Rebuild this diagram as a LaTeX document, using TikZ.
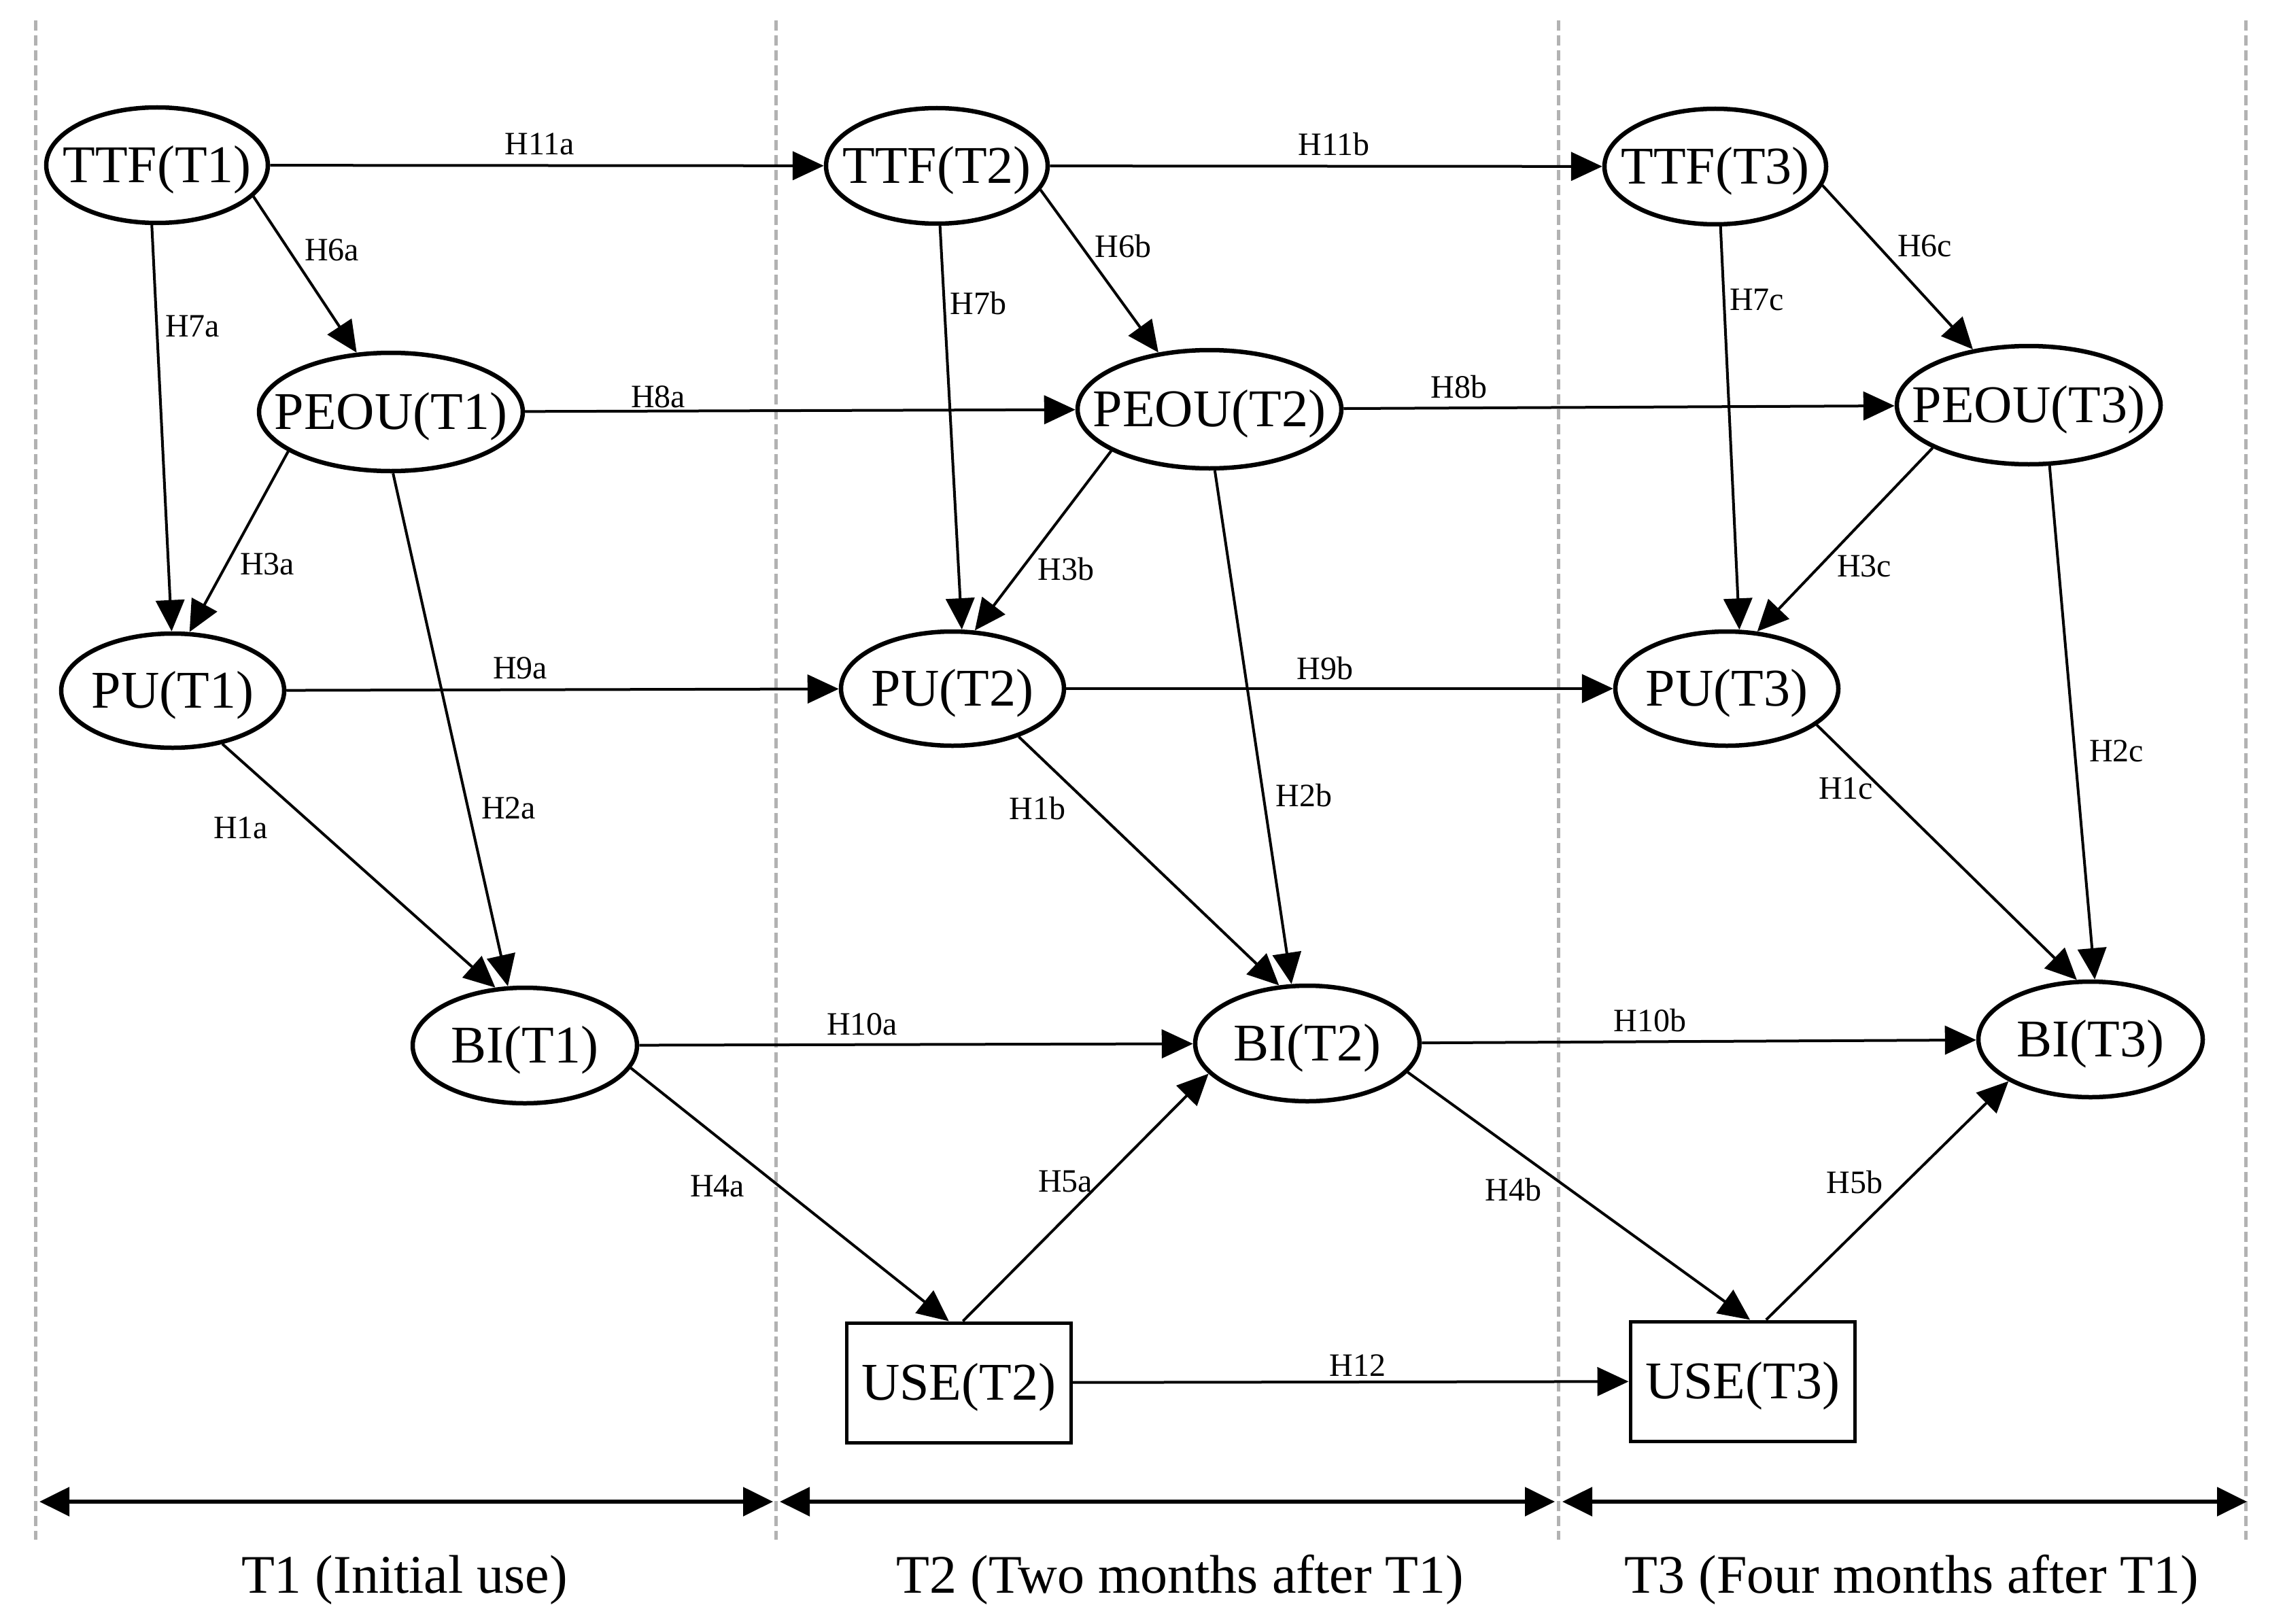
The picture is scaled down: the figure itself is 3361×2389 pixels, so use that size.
\documentclass[tikz,border=0pt]{standalone}
\usepackage{fontspec}
\setmainfont{Liberation Serif}
\usetikzlibrary{arrows.meta,shapes.geometric}
\newcommand\nt[1]{\makebox[0pt]{\raisebox{-0.33em}[0pt][0pt]{#1}}}
\begin{document}
\begin{tikzpicture}[x=1pt,y=-1pt,
  ell/.style={ellipse,draw,line width=6.5pt,inner sep=0pt,font=\fontsize{78pt}{80pt}\selectfont},
  ttfn/.style={ell,minimum width=326pt,minimum height=170pt},
  peoun/.style={ell,minimum width=388pt,minimum height=174pt},
  pun/.style={ell,minimum width=328pt,minimum height=168pt},
  bin/.style={ell,minimum width=330pt,minimum height=170pt},
  usen/.style={rectangle,draw,line width=5pt,inner sep=0pt,minimum width=330pt,minimum height=176pt,font=\fontsize{78pt}{80pt}\selectfont},
  conn/.style={draw,line width=4pt,-{Triangle[length=46pt,width=42pt]}},
  lab/.style={inner sep=0pt,font=\fontsize{48pt}{50pt}\selectfont},
  blab/.style={inner sep=0pt,anchor=base,font=\fontsize{80pt}{84pt}\selectfont},
  dl/.style={draw=gray!60,line width=5pt,dash pattern=on 15pt off 7pt},
  tl/.style={draw,line width=5.5pt,{Triangle[length=44pt,width=42pt]}-{Triangle[length=44pt,width=42pt]}}]
\useasboundingbox (0,0) rectangle (3361,2389);

% period separators
\draw[dl] (52,30) -- (52,2265);
\draw[dl] (1141,30) -- (1141,2265);
\draw[dl] (2292,30) -- (2292,2265);
\draw[dl] (3303,30) -- (3303,2265);

% nodes
\node[ttfn] (ttf1) at (231,243) {\nt{TTF(T1)}};
\node[ttfn] (ttf2) at (1378,244) {\nt{TTF(T2)}};
\node[ttfn] (ttf3) at (2523,245) {\nt{TTF(T3)}};
\node[peoun] (peou1) at (575,606) {\nt{PEOU(T1)}};
\node[peoun] (peou2) at (1779,602) {\nt{PEOU(T2)}};
\node[peoun] (peou3) at (2984,596) {\nt{PEOU(T3)}};
\node[pun] (pu1) at (254,1016) {\nt{PU(T1)}};
\node[pun] (pu2) at (1401,1013) {\nt{PU(T2)}};
\node[pun] (pu3) at (2540,1013) {\nt{PU(T3)}};
\node[bin] (bi1) at (772,1538) {\nt{BI(T1)}};
\node[bin] (bi2) at (1923,1535) {\nt{BI(T2)}};
\node[bin] (bi3) at (3075,1529) {\nt{BI(T3)}};
\node[usen] (use2) at (1410,2034) {\nt{USE(T2)}};
\node[usen] (use3) at (2563,2032) {\nt{USE(T3)}};

% connectors
\draw[conn] (ttf1) -- (ttf2);
\draw[conn] (ttf2) -- (ttf3);
\draw[conn] (ttf1.-18) -- (peou1.120);
\draw[conn] (ttf2.-13) -- (peou2.132);
\draw[conn] (ttf3.-10) -- (peou3.135);
\draw[conn] (ttf1.-95) -- (pu1.91);
\draw[conn] (ttf2.-87) -- (pu2.81);
\draw[conn] (ttf3.-85) -- (pu3.78);
\draw[conn] (peou1) -- (peou2);
\draw[conn] (peou2) -- (peou3);
\draw[conn] (peou1.201) -- (pu1.74);
\draw[conn] (peou2.203) -- (pu2.69);
\draw[conn] (peou3.204) -- (pu3.62);
\draw[conn] (pu1) -- (pu2);
\draw[conn] (pu2) -- (pu3);
\draw[conn] (peou1.-88) -- (bi1.106);
\draw[conn] (peou2.-85) -- (bi2.105);
\draw[conn] (peou3.-71) -- (bi3.86);
\draw[conn] (pu1.-47) -- (bi1.117);
\draw[conn] (pu2.-36) -- (bi2.116);
\draw[conn] (pu3.-22) -- (bi3.103);
\draw[conn] (bi1) -- (bi2);
\draw[conn] (bi2) -- (bi3);
\draw[conn] (bi1.-12) -- (use2.99);
\draw[conn] (bi2.-16) -- (use3.83);
\draw[conn] (use2.86) -- (bi2.197);
\draw[conn] (use3.69) -- (bi3.207);
\draw[conn] (use2) -- (use3);

% connector labels
\node[lab] (l11a) at (794,212) {H11a};
\node[lab] (l11b) at (1962,212) {H11b};
\node[lab] (l6a) at (488,368) {H6a};
\node[lab] (l6b) at (1652,362) {H6b};
\node[lab] (l6c) at (2831,362) {H6c};
\node[lab] (l7a) at (283,480) {H7a};
\node[lab] (l7b) at (1439,446) {H7b};
\node[lab] (l7c) at (2584,441) {H7c};
\node[lab] (l8a) at (968,584) {H8a};
\node[lab] (l8b) at (2146,569) {H8b};
\node[lab] (l3a) at (393,830) {H3a};
\node[lab] (l3b) at (1568,837) {H3b};
\node[lab] (l3c) at (2742,833) {H3c};
\node[lab] (l9a) at (765,983) {H9a};
\node[lab] (l9b) at (1949,983) {H9b};
\node[lab] (l1a) at (354,1218) {H1a};
\node[lab] (l1b) at (1526,1189) {H1b};
\node[lab] (l1c) at (2715,1160) {H1c};
\node[lab] (l2a) at (748,1189) {H2a};
\node[lab] (l2b) at (1918,1170) {H2b};
\node[lab] (l2c) at (3113,1105) {H2c};
\node[lab] (l10a) at (1268,1507) {H10a};
\node[lab] (l10b) at (2427,1501) {H10b};
\node[lab] (l4a) at (1055,1745) {H4a};
\node[lab] (l4b) at (2226,1750) {H4b};
\node[lab] (l5a) at (1567,1738) {H5a};
\node[lab] (l5b) at (2728,1739) {H5b};
\node[lab] (l12) at (1997,2009) {H12};

% time line
\coordinate (s1a) at (58,2209);
\coordinate (s1b) at (1137,2209);
\coordinate (s2a) at (1147,2209);
\coordinate (s2b) at (2287,2209);
\coordinate (s3a) at (2298,2209);
\coordinate (s3b) at (3305,2209);
\draw[tl] (s1a) -- (s1b);
\draw[tl] (s2a) -- (s2b);
\draw[tl] (s3a) -- (s3b);
\node[blab] (p1) at (595,2343) {T1 (Initial use)};
\node[blab] (p2) at (1736,2343) {T2 (Two months after T1)};
\node[blab] (p3) at (2812,2343) {T3 (Four months after T1)};
\end{tikzpicture}
\end{document}
